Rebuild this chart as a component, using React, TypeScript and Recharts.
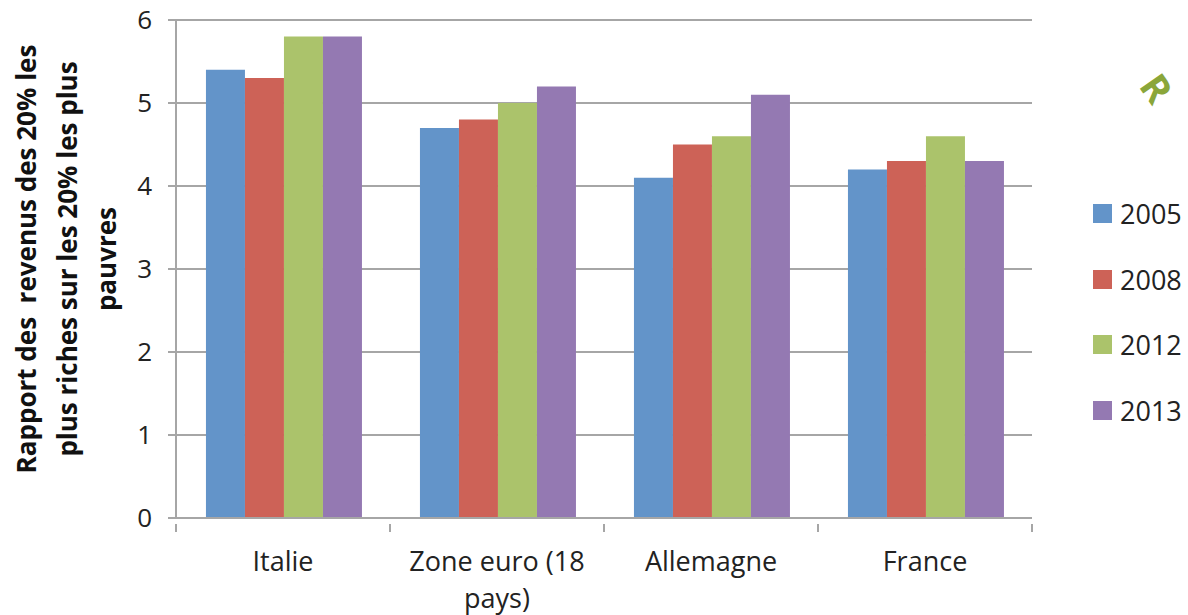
import { BarChart, Bar, XAxis, YAxis, CartesianGrid } from "recharts";

const categories = ["Italie", "Zone euro (18 pays)", "Allemagne", "France"];
const values2005 = [5.4, 4.7, 4.1, 4.2];
const values2008 = [5.3, 4.8, 4.5, 4.3];
const values2012 = [5.8, 5.0, 4.6, 4.6];
const values2013 = [5.8, 5.2, 5.1, 4.3];
const yTicks = [0, 1, 2, 3, 4, 5, 6];

const series = [
  { key: "y2005", name: "2005", color: "#6394c9" },
  { key: "y2008", name: "2008", color: "#cd6257" },
  { key: "y2012", name: "2012", color: "#abc36b" },
  { key: "y2013", name: "2013", color: "#9479b2" },
];

const data = categories.map((c, i) => ({
  name: c,
  y2005: values2005[i],
  y2008: values2008[i],
  y2012: values2012[i],
  y2013: values2013[i],
}));

const W = 1188;
const H = 615;
const M = { top: 20, right: 156, bottom: 0, left: 0 };
const X_H = 97;
const Y_W = 176;
const FONT = "'Open Sans', 'Liberation Sans', sans-serif";
const GRID = "#a6a6a6";

const band = (W - M.right - M.left - Y_W) / categories.length;

function wrap(label: string): string[] {
  if (label === "Zone euro (18 pays)") return ["Zone euro (18", "pays)"];
  return [label];
}

function XTick(props: any) {
  const { x, y, payload, index } = props;
  const lines = wrap(payload.value);
  return (
    <g>
      <line x1={x - band / 2} x2={x - band / 2} y1={y - 2} y2={y + 6} stroke={GRID} strokeWidth={2} />
      {index === categories.length - 1 && (
        <line x1={x + band / 2} x2={x + band / 2} y1={y - 2} y2={y + 6} stroke={GRID} strokeWidth={2} />
      )}
      <text x={x} y={y + 45} textAnchor="middle" fontSize={27} fill="#222" fontFamily={FONT}>
        {lines.map((l, i) => (
          <tspan key={i} x={x} dy={i === 0 ? 0 : 37}>
            {l}
          </tspan>
        ))}
      </text>
    </g>
  );
}

function YTitle() {
  const lines = ["Rapport des  revenus des 20% les", "plus riches sur les 20% les plus", "pauvres"];
  const xs = [26, 67, 106];
  const cy = 259;
  return (
    <g>
      {lines.map((l, i) => (
        <text
          key={i}
          x={xs[i]}
          y={cy}
          transform={`rotate(-90 ${xs[i]} ${cy})`}
          textAnchor="middle"
          dominantBaseline="central"
          fontSize={26}
          fontWeight="bold"
          fill="#111"
          fontFamily={FONT}
          style={{ whiteSpace: "pre" }}
        >
          {l}
        </text>
      ))}
    </g>
  );
}

function LegendBox() {
  return (
    <div style={{ position: "absolute", left: 1093, top: 181, fontFamily: FONT }}>
      {series.map((s) => (
        <div key={s.key} style={{ display: "flex", alignItems: "center", height: 65.5 }}>
          <span style={{ width: 19, height: 19, background: s.color, display: "inline-block", marginRight: 8 }} />
          <span style={{ fontSize: 27, color: "#222" }}>{s.name}</span>
        </div>
      ))}
    </div>
  );
}

export default function App() {
  return (
    <div style={{ position: "absolute", left: 0, top: 0, width: W, height: H, background: "#fff", overflow: "hidden" }}>
      <BarChart width={W} height={H} data={data} margin={M} barCategoryGap="14%" barGap={0}>
        <CartesianGrid vertical={false} stroke={GRID} strokeWidth={2} />
        <XAxis
          dataKey="name"
          axisLine={{ stroke: GRID, strokeWidth: 2 }}
          tickLine={false}
          tick={<XTick />}
          interval={0}
          height={X_H}
        />
        <YAxis
          width={Y_W}
          domain={[0, 6]}
          ticks={yTicks}
          axisLine={{ stroke: GRID, strokeWidth: 2 }}
          tickLine={{ stroke: GRID, strokeWidth: 2 }}
          tickSize={8}
          tickMargin={16}
          tick={{ fontSize: 26, fill: "#222", fontFamily: FONT }}
        />
        {series.map((s) => (
          <Bar key={s.key} dataKey={s.key} name={s.name} fill={s.color} isAnimationActive={false} />
        ))}
        <YTitle />
        <text
          x={1138}
          y={86}
          transform="rotate(55 1138 86)"
          fontSize={38}
          fontWeight="bold"
          fill="#8aa63a"
          fontFamily={FONT}
        >
          R
        </text>
      </BarChart>
      <LegendBox />
    </div>
  );
}
